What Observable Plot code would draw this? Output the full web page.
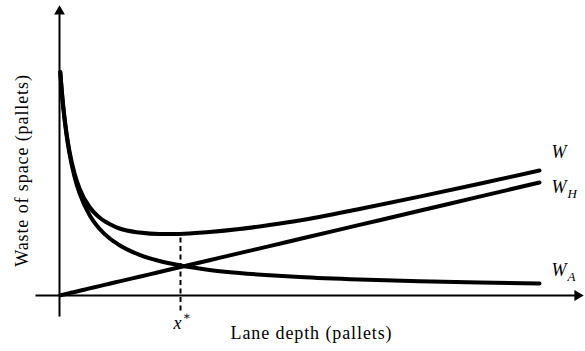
<!DOCTYPE html>
<html>
<head>
<meta charset="utf-8">
<script src="https://cdn.jsdelivr.net/npm/d3@7"></script>
<script src="https://cdn.jsdelivr.net/npm/@observablehq/plot@0.6"></script>
<style>
  html, body { margin: 0; padding: 0; background: #fff; }
  #chart svg { display: block; }
</style>
</head>
<body>
<div id="chart"></div>
<script>
// Lane depth (pallets), read along the horizontal axis
const depth = [0.04, 0.1, 0.2, 0.35, 0.5, 0.75, 1, 1.5, 2, 2.5, 3, 4, 5, 6, 7.5, 9, 10.5, 12, 15, 18, 21, 24];
// W_A : decreasing waste
const wasteA = [22.33, 20.76, 18.58, 16.08, 14.18, 11.88, 10.24, 8.06, 6.68, 5.72, 5.03, 4.07, 3.45, 3.02, 2.56, 2.25, 2.02, 1.84, 1.59, 1.42, 1.29, 1.20];
// W_H : increasing, linear waste
const wasteH = [0.02, 0.05, 0.09, 0.16, 0.24, 0.35, 0.47, 0.71, 0.94, 1.18, 1.41, 1.88, 2.35, 2.82, 3.53, 4.24, 4.94, 5.65, 7.06, 8.47, 9.89, 11.30];
// W : total waste
const wasteTotal = [22.35, 20.81, 18.67, 16.24, 14.42, 12.23, 10.71, 8.85, 7.8, 7.15, 6.7, 6.3, 6.15, 6.15, 6.35, 6.65, 7.05, 7.5, 8.65, 9.89, 11.18, 12.50];
// optimum lane depth x*
const xStar = 6.05;
const xStarWaste = 6.15;

const seriesNames = ["W", "W_H", "W_A"];
const seriesMain = ["W", "W", "W"];
const seriesSubs = ["", "H", "A"];
const seriesLabelDy = [-18, 5, -13];

const seriesValues = [wasteTotal, wasteH, wasteA];
const rows = [];
seriesNames.forEach((name, i) => {
  depth.forEach((d, j) => rows.push({series: name, x: d, y: seriesValues[i][j]}));
});
const last = depth.length - 1;
const ends = seriesNames.map((name, i) => ({series: name, main: seriesMain[i], sub: seriesSubs[i], x: depth[last], y: seriesValues[i][last], dy: seriesLabelDy[i]}));

const serif = "'Liberation Serif', 'DejaVu Serif', 'Times New Roman', serif";

const labelMarks = [];
ends.forEach(e => {
  labelMarks.push(Plot.text([e], {x: "x", y: "y", text: "main", dx: 12, dy: e.dy, textAnchor: "start",
    fontFamily: serif, fontStyle: "italic", fontSize: 18, fill: "black"}));
  if (e.sub) labelMarks.push(Plot.text([e], {x: "x", y: "y", text: "sub", dx: 28, dy: e.dy + 6, textAnchor: "start",
    fontFamily: serif, fontStyle: "italic", fontSize: 13, fill: "black"}));
});

const chart = Plot.plot({
  width: 585,
  height: 351,
  marginTop: 0, marginRight: 0, marginBottom: 0, marginLeft: 0,
  x: {domain: [-1.2, 26.2], range: [35, 583], axis: null},
  y: {domain: [-2.1, 29], range: [316, 5], axis: null},
  style: {background: "white"},
  marks: [
    // axes
    Plot.link([0], {x1: -1.2, x2: 25.9, y1: 0, y2: 0, stroke: "black", strokeWidth: 2}),
    Plot.link([0], {x1: 0, x2: 0, y1: -2.1, y2: 28.4, stroke: "black", strokeWidth: 2}),
    Plot.dot([0], {x: 25.9, y: 0, symbol: "triangle", rotate: 90, r: 4, fill: "black", stroke: null}),
    Plot.dot([0], {x: 0, y: 28.4, symbol: "triangle", rotate: 0, r: 4, fill: "black", stroke: null}),
    // dashed optimum
    Plot.link([0], {x1: xStar, x2: xStar, y1: -1.5, y2: xStarWaste, stroke: "black", strokeWidth: 2, strokeDasharray: "5,3.5"}),
    // curves
    Plot.line(rows, {x: "x", y: "y", z: "series", stroke: "black", strokeWidth: 4, curve: "monotone-x"}),
    ...labelMarks,
    // x* label
    Plot.text([0], {x: xStar, y: 0, text: d => "x", dx: -3, dy: 28, fontFamily: serif, fontStyle: "italic", fontSize: 18, fill: "black"}),
    Plot.text([0], {x: xStar, y: 0, text: d => "\u2217", dx: 6, dy: 21, fontFamily: serif, fontSize: 12, fill: "black"}),
    // axis titles
    Plot.text([0], {x: 12.6, y: -3.8, text: d => "Lane depth (pallets)", fontFamily: serif, fontSize: 18, fill: "black"}),
    Plot.text([0], {x: -1.85, y: 12.5, text: d => "Waste of space (pallets)", rotate: -90, fontFamily: serif, fontSize: 18, fill: "black"})
  ]
});
d3.select(chart).selectAll("text")
  .filter(function() { return /pallets/.test(this.textContent); })
  .attr("letter-spacing", 0.9);
document.getElementById("chart").appendChild(chart);
</script>
</body>
</html>
